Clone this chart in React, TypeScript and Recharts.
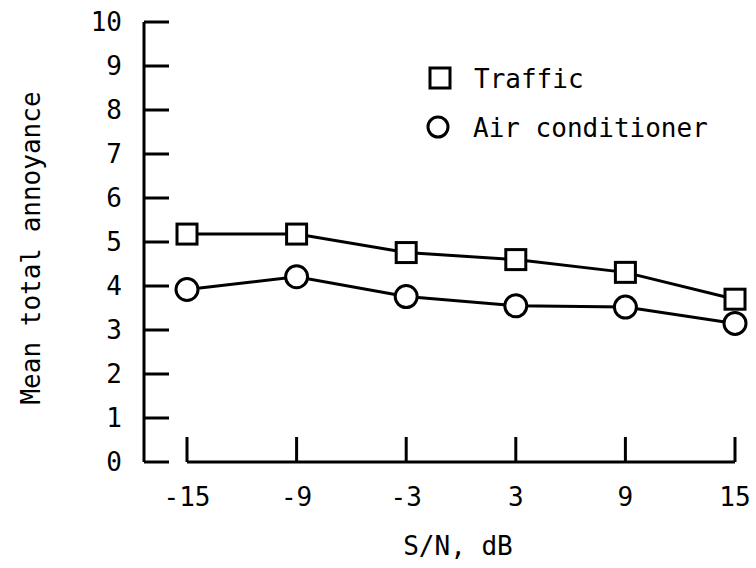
import { Legend, Line, LineChart, ReferenceLine, XAxis, YAxis } from "recharts";

const SN_DB = [-15, -9, -3, 3, 9, 15];
const TRAFFIC = [5.18, 5.18, 4.76, 4.6, 4.31, 3.7];
const AIR_CONDITIONER = [3.92, 4.21, 3.76, 3.55, 3.52, 3.15];
const Y_TICKS = [0, 1, 2, 3, 4, 5, 6, 7, 8, 9, 10];

const data = SN_DB.map((sn, i) => ({
  sn,
  traffic: TRAFFIC[i],
  air: AIR_CONDITIONER[i],
}));

const FONT = "'DejaVu Sans Mono', 'Liberation Mono', monospace";
const FONT_SIZE = 26;
const INK = "#000";

function SquareDot(props: any) {
  const { cx, cy } = props;
  if (cx == null || cy == null) return null;
  return (
    <rect x={cx - 10} y={cy - 10} width={20} height={20} fill="#fff" stroke={INK} strokeWidth={3} />
  );
}

function CircleDot(props: any) {
  const { cx, cy } = props;
  if (cx == null || cy == null) return null;
  return <circle cx={cx} cy={cy} r={11} fill="#fff" stroke={INK} strokeWidth={3} />;
}

function XTick(props: any) {
  const { x, y, payload } = props;
  return (
    <g>
      <line x1={x} y1={y} x2={x} y2={y - 25} stroke={INK} strokeWidth={3} />
      <text x={x} y={y + 44} textAnchor="middle" fontFamily={FONT} fontSize={FONT_SIZE} fill={INK}>
        {payload.value}
      </text>
    </g>
  );
}

function YTick(props: any) {
  const { x, y, payload } = props;
  return (
    <g>
      <line x1={x} y1={y} x2={x + 25} y2={y} stroke={INK} strokeWidth={3} />
      <text x={x - 22} y={y + 9} textAnchor="end" fontFamily={FONT} fontSize={FONT_SIZE} fill={INK}>
        {payload.value}
      </text>
    </g>
  );
}

function LegendBox() {
  return (
    <svg width={330} height={100}>
      <rect x={10} y={8} width={20} height={20} fill="#fff" stroke={INK} strokeWidth={3} />
      <text x={54} y={28} fontFamily={FONT} fontSize={FONT_SIZE} fill={INK}>
        Traffic
      </text>
      <circle cx={18} cy={67} r={10} fill="#fff" stroke={INK} strokeWidth={3} />
      <text x={53} y={77} fontFamily={FONT} fontSize={FONT_SIZE} fill={INK}>
        Air conditioner
      </text>
    </svg>
  );
}

export default function App() {
  return (
    <div style={{ position: "absolute", left: 0, top: 0, background: "#fff" }}>
      <LineChart
        width={756}
        height={568}
        data={data}
        margin={{ top: 22, right: 21, bottom: 46, left: 64 }}
      >
        <XAxis
          dataKey="sn"
          type="number"
          domain={[-15, 15]}
          ticks={SN_DB}
          padding={{ left: 43, right: 0 }}
          axisLine={false}
          tickLine={false}
          tickSize={0}
          tickMargin={0}
          height={60}
          tick={<XTick />}
          label={{
            content: () => (
              <text x={458} y={555} textAnchor="middle" fontFamily={FONT} fontSize={FONT_SIZE} fill={INK}>
                S/N, dB
              </text>
            ),
          }}
        />
        <YAxis
          type="number"
          domain={[0, 10]}
          ticks={Y_TICKS}
          width={80}
          axisLine={{ stroke: INK, strokeWidth: 3 }}
          tickLine={false}
          tickSize={0}
          tickMargin={0}
          tick={<YTick />}
          label={{
            content: () => (
              <text
                x={40}
                y={248}
                transform="rotate(-90 40 248)"
                textAnchor="middle"
                fontFamily={FONT}
                fontSize={FONT_SIZE}
                fill={INK}
              >
                Mean total annoyance
              </text>
            ),
          }}
        />
        <ReferenceLine
          segment={[
            { x: -15, y: 0 },
            { x: 15, y: 0 },
          ]}
          stroke={INK}
          strokeWidth={3}
        />
        <Legend
          layout="horizontal"
          verticalAlign="middle"
          align="center"
          wrapperStyle={{ left: 420, top: 60, width: 330, height: 100 }}
          content={() => <LegendBox />}
        />
        <Line
          dataKey="traffic"
          name="Traffic"
          type="linear"
          stroke={INK}
          strokeWidth={3}
          dot={<SquareDot />}
          activeDot={false}
          isAnimationActive={false}
        />
        <Line
          dataKey="air"
          name="Air conditioner"
          type="linear"
          stroke={INK}
          strokeWidth={3}
          dot={<CircleDot />}
          activeDot={false}
          isAnimationActive={false}
        />
      </LineChart>
    </div>
  );
}
